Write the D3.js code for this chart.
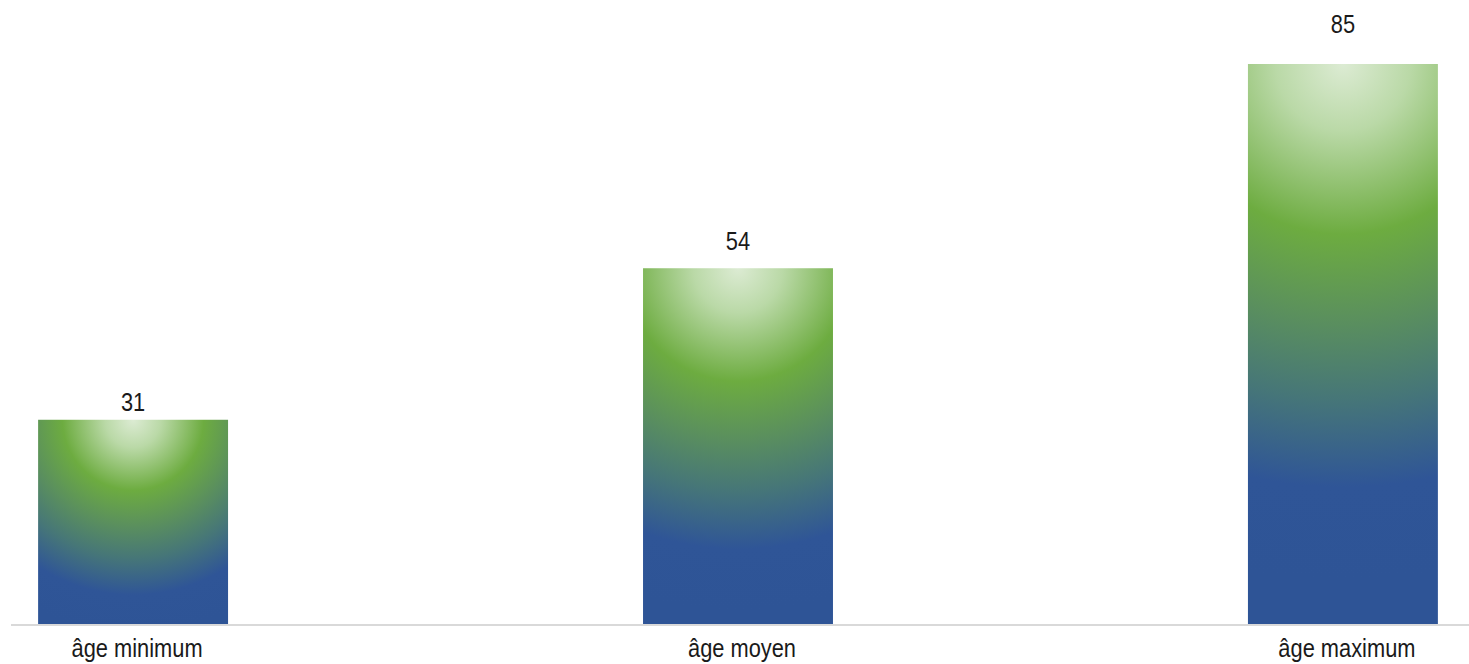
<!DOCTYPE html>
<html>
<head>
<meta charset="utf-8">
<script src="https://cdn.jsdelivr.net/npm/d3@7"></script>
<style>
  html, body { margin: 0; padding: 0; background: #ffffff; }
  svg { display: block; }
  text { font-family: "Liberation Sans", Arial, sans-serif; fill: #1a1a1a; }
</style>
</head>
<body>
<svg id="chart" width="1469" height="664"></svg>
<script>
const categories = ["âge minimum", "âge moyen", "âge maximum"];
const values = [31, 54, 85];
const valueLabels = ["31", "54", "85"];

const W = 1469, H = 664;
const FONT_SIZE = 26, NARROW = 0.84;
const svg = d3.select("#chart");

const x = d3.scaleBand()
  .domain(categories)
  .range([0, 1476])
  .paddingInner(0.686)
  .paddingOuter(0.063);

const y = d3.scaleLinear().domain([0, 85]).range([624, 64]);

const defs = svg.append("defs");
const stops = [
  { o: 0.00, c: "#dcebd3" },
  { o: 0.13, c: "#bad9a7" },
  { o: 0.33, c: "#6dac40" },
  { o: 0.50, c: "#5a8f5e" },
  { o: 0.65, c: "#467678" },
  { o: 0.82, c: "#2f5597" },
  { o: 1.00, c: "#2e5496" }
];

categories.forEach((c, i) => {
  const cx = x(c) + x.bandwidth() / 2;
  const top = y(values[i]);
  const h = y(0) - top;
  const g = defs.append("radialGradient")
    .attr("id", "grad" + i)
    .attr("gradientUnits", "userSpaceOnUse")
    .attr("cx", cx).attr("cy", top)
    .attr("fx", cx).attr("fy", top)
    .attr("r", h * 0.85 + 40);
  stops.forEach(s => g.append("stop").attr("offset", s.o).attr("stop-color", s.c));
});

svg.selectAll("rect.bar")
  .data(categories)
  .join("rect")
  .attr("class", "bar")
  .attr("x", d => x(d))
  .attr("width", x.bandwidth())
  .attr("y", (d, i) => y(values[i]))
  .attr("height", (d, i) => y(0) - y(values[i]))
  .attr("fill", (d, i) => "url(#grad" + i + ")");

// baseline axis
const axis = d3.axisBottom(x).tickSize(0).tickPadding(0);
const gAxis = svg.append("g").attr("transform", `translate(0,${y(0)})`).call(axis);
gAxis.select(".domain").remove();
gAxis.selectAll(".tick text")
  .attr("y", 0).attr("dy", 0)
  .attr("transform", `translate(4,33) scale(${NARROW},1)`)
  .style("font-family", '"Liberation Sans", Arial, sans-serif')
  .style("font-size", FONT_SIZE + "px")
  .attr("fill", "#1a1a1a");
svg.append("line")
  .attr("x1", 11).attr("x2", W)
  .attr("y1", y(0) + 1).attr("y2", y(0) + 1)
  .attr("stroke", "#d9d9d9").attr("stroke-width", 2);

// value labels
svg.selectAll("text.val")
  .data(categories)
  .join("text")
  .attr("class", "val")
  .attr("transform", (d, i) => {
    const h = y(0) - y(values[i]);
    const gap = h * 0.065 - 5;
    return `translate(${x(d) + x.bandwidth() / 2},${y(values[i]) - gap}) scale(${NARROW},1)`;
  })
  .attr("text-anchor", "middle")
  .style("font-size", FONT_SIZE + "px")
  .text((d, i) => valueLabels[i]);
</script>
</body>
</html>
